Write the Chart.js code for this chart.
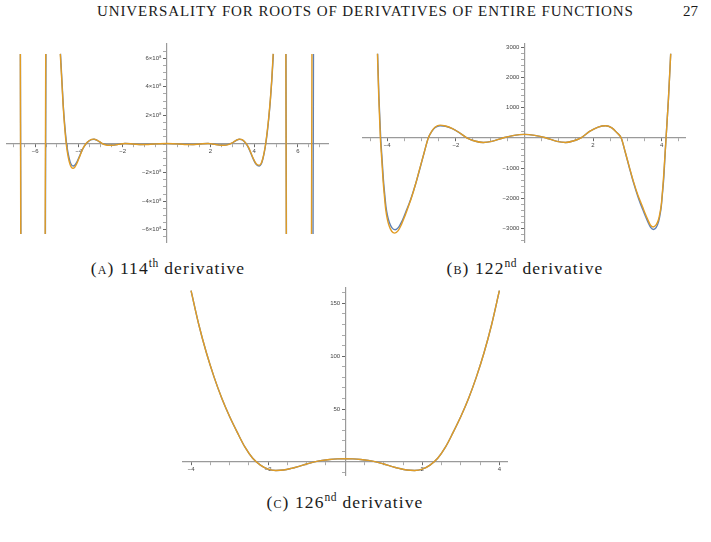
<!DOCTYPE html>
<html><head><meta charset="utf-8">
<script src="https://cdn.jsdelivr.net/npm/chart.js@4.4.1/dist/chart.umd.min.js"></script>
<style>
html,body{margin:0;padding:0;background:#fff;width:711px;height:542px;overflow:hidden;position:relative;font-family:"Liberation Serif","DejaVu Serif",serif;color:#1a1a1a}
.abs{position:absolute;white-space:nowrap}
canvas{position:absolute}
.cap{position:absolute;font-size:17.5px;letter-spacing:1.1px;line-height:20px;white-space:nowrap;transform:translateX(-50%)}
.sc{font-variant:small-caps}
sup{font-size:11.5px;vertical-align:7px;line-height:0;letter-spacing:0.5px}
</style></head><body>
<div class="abs" style="left:97px;top:3px;font-size:15px;letter-spacing:0.9px">UNIVERSALITY FOR ROOTS OF DERIVATIVES OF ENTIRE FUNCTIONS</div>
<div class="abs" style="left:683px;top:3px;font-size:15px">27</div>

<canvas id="cA" width="341" height="218" style="left:-3px;top:34px"></canvas>
<canvas id="cB" width="342" height="218" style="left:353px;top:34px"></canvas>
<canvas id="cC" width="344" height="207" style="left:173px;top:278px"></canvas>

<div class="cap" style="left:168px;top:258px"><span class="sc">(a)</span> 114<sup>th</sup> derivative</div>
<div class="cap" style="left:525px;top:258px"><span class="sc">(b)</span> 122<sup>nd</sup> derivative</div>
<div class="cap" style="left:345px;top:492px"><span class="sc">(c)</span> 126<sup>nd</sup> derivative</div>

<script>
// ---------- DATA ----------
// Chart A (values in units of 10^8)
const aXTicks = [-6, -4, -2, 2, 4, 6];
const aXTickLabels = ['−6', '−4', '−2', '2', '4', '6'];
const aYTicks = [-6, -4, -2, 2, 4, 6];
const aYTickLabels = ['−6×10⁸', '−4×10⁸', '−2×10⁸', '2×10⁸', '4×10⁸', '6×10⁸'];

const aBlueX = [-6.67, -6.65, -6.0, -5.53, -5.505, -5.2,
  -4.84, -4.77, -4.71, -4.64, -4.56, -4.48, -4.40, -4.33, -4.26, -4.18, -4.10, -4.00, -3.90, -3.80, -3.68, -3.55, -3.42, -3.31, -3.20, -3.08, -2.95, -2.80, -2.62, -2.45, -2.28, -2.10, -1.90, -1.65, -1.40, -1.15, -0.90, -0.60, -0.30, 0.00, 0.30, 0.60, 0.90, 1.15, 1.40, 1.65, 1.90, 2.10, 2.30, 2.48, 2.65, 2.82, 2.98, 3.12, 3.22, 3.32, 3.42, 3.52, 3.62, 3.74, 3.85, 3.96, 4.06, 4.15, 4.24, 4.32, 4.40, 4.47, 4.53, 4.60, 4.67, 4.74, 4.81, 4.88,
  5.2, 5.455, 5.475, 6.0, 6.69, 6.71];
const aBlueY = [6.3, -6.3, null, -6.3, 6.3, null,
  6.3, 4.3, 2.6, 1.2, 0.0, -0.75, -1.25, -1.48, -1.54, -1.47, -1.28, -0.95, -0.6, -0.28, 0.0, 0.2, 0.31, 0.33, 0.28, 0.17, 0.05, -0.03, -0.07, -0.07, -0.04, 0.0, 0.03, 0.02, -0.01, -0.03, -0.02, 0.0, 0.02, 0.025, 0.02, 0.0, -0.02, -0.03, -0.01, 0.02, 0.03, 0.0, -0.04, -0.07, -0.07, -0.03, 0.06, 0.19, 0.28, 0.33, 0.31, 0.22, 0.05, -0.25, -0.65, -1.05, -1.35, -1.50, -1.54, -1.42, -1.05, -0.55, 0.0, 0.8, 1.8, 3.0, 4.5, 6.3,
  null, 6.3, -6.3, null, -6.3, 6.3];

const aOrangeX = [-6.675, -6.655, -6.0, -5.54, -5.515, -5.2,
  -4.85, -4.78, -4.72, -4.65, -4.57, -4.49, -4.41, -4.34, -4.27, -4.19, -4.11, -4.01, -3.91, -3.81, -3.69, -3.55, -3.42, -3.31, -3.20, -3.08, -2.95, -2.80, -2.62, -2.45, -2.28, -2.10, -1.90, -1.65, -1.40, -1.15, -0.90, -0.60, -0.30, 0.00, 0.30, 0.60, 0.90, 1.15, 1.40, 1.65, 1.90, 2.10, 2.30, 2.48, 2.65, 2.82, 2.98, 3.12, 3.22, 3.32, 3.42, 3.52, 3.62, 3.74, 3.85, 3.96, 4.06, 4.15, 4.24, 4.32, 4.40, 4.47, 4.53, 4.60, 4.67, 4.74, 4.81, 4.87,
  5.2, 5.45, 5.47, 6.0, 6.62, 6.64];
const aOrangeY = [6.3, -6.3, null, -6.3, 6.3, null,
  6.3, 4.4, 2.7, 1.2, -0.1, -0.9, -1.4, -1.63, -1.70, -1.62, -1.42, -1.05, -0.66, -0.30, 0.0, 0.21, 0.32, 0.34, 0.29, 0.18, 0.05, -0.05, -0.09, -0.09, -0.05, 0.0, 0.03, 0.02, -0.02, -0.04, -0.03, 0.0, 0.02, 0.03, 0.02, 0.0, -0.03, -0.04, -0.02, 0.02, 0.03, 0.0, -0.05, -0.09, -0.09, -0.04, 0.06, 0.20, 0.29, 0.34, 0.32, 0.23, 0.06, -0.22, -0.6, -1.0, -1.3, -1.45, -1.48, -1.36, -1.0, -0.5, 0.05, 0.9, 1.9, 3.1, 4.6, 6.3,
  null, 6.3, -6.3, null, -6.3, 6.3];

// Chart B
const bXTicks = [-4, -2, 2, 4];
const bXTickLabels = ['−4', '−2', '2', '4'];
const bYTicks = [-3000, -2000, -1000, 1000, 2000, 3000];
const bYTickLabels = ['−3000', '−2000', '−1000', '1000', '2000', '3000'];

const bBlueX = [-4.28, -4.24, -4.19, -4.15, -4.11, -4.07, -4.035, -3.99, -3.94, -3.86, -3.77, -3.67, -3.58, -3.50, -3.43, -3.36, -3.29, -3.16, -3.04, -2.92, -2.80, -2.70, -2.60, -2.46, -2.30, -2.10, -1.90, -1.68, -1.45, -1.20, -0.95, -0.61, -0.30, 0.00, 0.30, 0.62, 0.95, 1.20, 1.42, 1.65, 1.90, 2.15, 2.37, 2.55, 2.70, 2.82, 2.94, 3.06, 3.18, 3.31, 3.38, 3.45, 3.52, 3.60, 3.68, 3.76, 3.84, 3.91, 3.95, 3.99, 4.02, 4.06, 4.095, 4.13, 4.20, 4.265];
const bBlueY = [2780, 1300, 0, -700, -1400, -1900, -2290, -2580, -2790, -2980, -3040, -2960, -2780, -2570, -2370, -2170, -1950, -1480, -990, -480, 0, 210, 340, 400, 380, 300, 170, 0, -105, -155, -120, 0, 80, 112, 80, 0, -120, -155, -105, 0, 210, 355, 400, 325, 165, 0, -480, -990, -1480, -1950, -2170, -2370, -2570, -2780, -2960, -3030, -2970, -2780, -2570, -2280, -1900, -1380, -690, 0, 1300, 2780];

const bOrangeX = [-4.285, -4.245, -4.20, -4.16, -4.12, -4.08, -4.045, -4.00, -3.95, -3.87, -3.78, -3.68, -3.59, -3.51, -3.44, -3.37, -3.30, -3.17, -3.05, -2.92, -2.80, -2.70, -2.60, -2.46, -2.30, -2.10, -1.90, -1.68, -1.45, -1.20, -0.95, -0.61, -0.30, 0.00, 0.30, 0.62, 0.95, 1.20, 1.42, 1.65, 1.90, 2.15, 2.37, 2.55, 2.70, 2.82, 2.94, 3.06, 3.18, 3.31, 3.38, 3.45, 3.52, 3.60, 3.67, 3.75, 3.84, 3.91, 3.95, 3.99, 4.02, 4.06, 4.095, 4.13, 4.20, 4.265];
const bOrangeY = [2780, 1300, 0, -700, -1420, -1950, -2360, -2670, -2890, -3090, -3150, -3070, -2880, -2660, -2450, -2230, -2010, -1520, -1010, -480, 0, 220, 355, 420, 390, 305, 175, 0, -105, -155, -120, 0, 80, 112, 80, 0, -120, -155, -105, 0, 210, 355, 400, 325, 165, 0, -470, -970, -1450, -1900, -2100, -2300, -2500, -2710, -2880, -2950, -2880, -2700, -2500, -2220, -1850, -1250, -620, 0, 1300, 2780];

// Chart C
const cXTicks = [-4, -2, 2, 4];
const cXTickLabels = ['−4', '−2', '2', '4'];
const cYTicks = [50, 100, 150];
const cYTickLabels = ['50', '100', '150'];

const cX = [-4.0, -3.8, -3.6, -3.4, -3.2, -3.0, -2.8, -2.6, -2.4, -2.2, -2.0, -1.8, -1.6, -1.4, -1.2, -1.0, -0.8, -0.6, -0.4, -0.2, 0.0, 0.2, 0.4, 0.6, 0.8, 1.0, 1.2, 1.4, 1.6, 1.8, 2.0, 2.2, 2.4, 2.6, 2.8, 3.0, 3.2, 3.4, 3.6, 3.8, 4.0];
const cBlueY = [162, 130, 103, 80, 60, 43, 28, 14, 3.5, -3, -6.8, -8, -7.6, -6.1, -4.1, -1.9, 0.1, 1.5, 2.4, 2.9, 3.0, 2.9, 2.4, 1.5, 0.1, -1.9, -4.1, -6.1, -7.6, -8, -6.8, -3, 3.5, 14, 28, 43, 60, 80, 103, 130, 162];
const cOrangeY = [162, 130, 103, 80, 60, 43, 28, 14, 3.5, -3, -6.8, -8, -7.6, -6.1, -4.1, -1.9, 0.1, 1.5, 2.4, 2.9, 3.0, 2.9, 2.4, 1.5, 0.1, -1.9, -4.1, -6.1, -7.6, -8, -6.8, -3, 3.5, 14, 28, 43, 60, 80, 103, 130, 162];

// ---------- RENDER ----------
const BLUE = '#5E81B5', ORANGE = '#E19C24';
const PAD = 10;

function pts(xs, ys) { return xs.map((x, i) => ({ x: x, y: ys[i] })); }

function axisOpts(axis, min, max, step, tickVals, tickLabels, pos) {
  const isMajor = v => tickVals.some(t => Math.abs(t - v) < 1e-6);
  return {
    type: 'linear', min: min, max: max, position: pos,
    grid: {
      display: true, drawOnChartArea: false, drawTicks: true, tickLength: 3,
      tickColor: c => (c.tick && isMajor(c.tick.value)) ? '#666' : '#aaa', tickWidth: 1
    },
    border: { display: true, color: '#9a9a9a', width: 1.2 },
    ticks: {
      stepSize: step, autoSkip: false, includeBounds: false, maxRotation: 0, minRotation: 0,
      maxTicksLimit: 1000, padding: 1, color: '#444',
      font: { family: 'Liberation Sans', size: 6 },
      callback: v => {
        const i = tickVals.findIndex(t => Math.abs(t - v) < 1e-6);
        return i >= 0 ? tickLabels[i] + (axis === 'y' ? '   ' : '') : '';
      }
    }
  };
}

function makeChart(id, c) {
  return new Chart(document.getElementById(id), {
    type: 'scatter',
    data: {
      datasets: c.series.map(s => ({
        data: pts(s.x, s.y), showLine: true, borderColor: s.color, backgroundColor: s.color,
        borderWidth: 1.4, pointRadius: 0, pointHoverRadius: 0, spanGaps: false,
        cubicInterpolationMode: 'monotone', fill: false
      }))
    },
    options: {
      responsive: false, animation: false, devicePixelRatio: 1, events: [],
      layout: { padding: PAD },
      plugins: { legend: { display: false }, tooltip: { enabled: false } },
      scales: {
        x: axisOpts('x', c.xMin, c.xMax, c.xStep, c.xTicks, c.xLabels, { y: 0 }),
        y: axisOpts('y', c.yMin, c.yMax, c.yStep, c.yTicks, c.yLabels, { x: 0 })
      }
    }
  });
}

makeChart('cA', {
  xMin: -7.283, xMax: 7.374, yMin: -6.853, yMax: 6.993, xStep: 0.5, yStep: 0.5,
  xTicks: aXTicks, xLabels: aXTickLabels, yTicks: aYTicks, yLabels: aYTickLabels,
  series: [{ x: aOrangeX, y: aOrangeY, color: ORANGE }, { x: aBlueX, y: aBlueY, color: BLUE }]
});
makeChart('cB', {
  xMin: -4.706, xMax: 4.682, yMin: -3445, yMax: 3100, xStep: 0.5, yStep: 200,
  xTicks: bXTicks, xLabels: bXTickLabels, yTicks: bYTicks, yLabels: bYTickLabels,
  series: [{ x: bOrangeX, y: bOrangeY, color: ORANGE }, { x: bBlueX, y: bBlueY, color: BLUE }]
});
makeChart('cC', {
  xMin: -4.209, xMax: 4.198, yMin: -12.3, yMax: 164.5, xStep: 0.5, yStep: 10,
  xTicks: cXTicks, xLabels: cXTickLabels, yTicks: cYTicks, yLabels: cYTickLabels,
  series: [{ x: cX, y: cOrangeY, color: ORANGE }, { x: cX, y: cBlueY, color: BLUE }]
});
</script>
</body></html>
